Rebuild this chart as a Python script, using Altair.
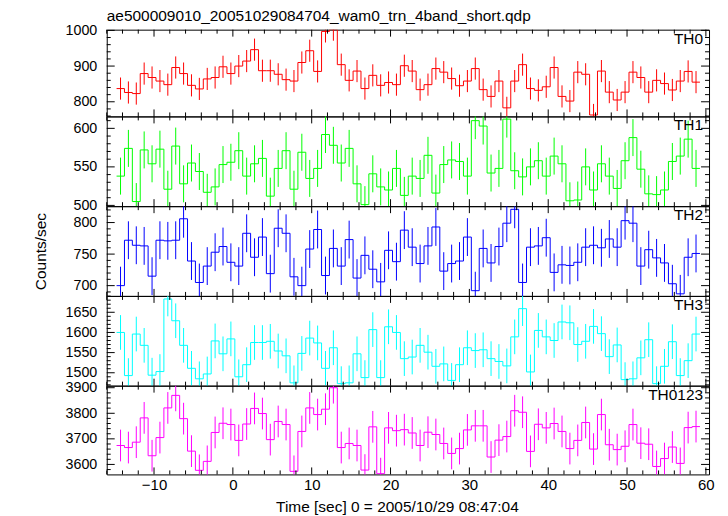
import altair as alt
import pandas as pd

chart_title = "ae500009010_20051029084704_wam0_trn_4band_short.qdp"
x_title = "Time [sec] 0 = 2005/10/29 08:47:04"
y_title = "Counts/sec"
labels = ["TH0", "TH1", "TH2", "TH3", "TH0123"]
colors = ["#ff0000", "#00ff00", "#0000ff", "#00ffff", "#ff00ff"]

t_first = -14.25
bin_width = 1.0

th0 = [837, 826, 823, 879, 868, 858, 848, 896, 879, 846, 836, 864, 868, 898, 879, 900,
       914, 946, 887, 887, 877, 862, 858, 910, 943, 885, 997, 1002, 904, 860, 886, 837,
       874, 846, 854, 848, 901, 886, 834, 848, 893, 883, 865, 845, 858, 893, 834, 815,
       858, 783, 858, 904, 837, 832, 842, 896, 815, 802, 883, 877, 763, 886, 827, 805,
       827, 883, 868, 827, 860, 851, 833, 858, 885, 855]
th1 = [538, 574, 505, 572, 554, 573, 521, 577, 528, 555, 544, 517, 524, 553, 556, 571,
       538, 554, 561, 512, 548, 571, 521, 569, 535, 548, 592, 578, 555, 574, 528, 501,
       541, 524, 520, 548, 513, 538, 535, 565, 516, 553, 559, 557, 538, 610, 603, 542,
       548, 612, 545, 537, 550, 558, 538, 564, 554, 506, 507, 550, 520, 554, 538, 522,
       558, 588, 547, 515, 514, 520, 557, 564, 586, 548]
th2 = [700, 772, 764, 763, 715, 772, 771, 772, 806, 739, 705, 731, 753, 762, 737, 731,
       783, 745, 777, 719, 791, 783, 714, 700, 758, 789, 716, 759, 731, 773, 712, 748,
       726, 706, 756, 738, 788, 761, 735, 763, 793, 723, 735, 739, 777, 692, 759, 736,
       762, 799, 821, 705, 761, 763, 776, 721, 733, 732, 737, 761, 764, 760, 774, 761,
       803, 799, 731, 757, 744, 736, 703, 687, 745, 751]
th3 = [1600, 1493, 1596, 1568, 1494, 1503, 1683, 1629, 1568, 1511, 1485, 1497, 1579, 1547,
       1584, 1490, 1520, 1575, 1575, 1578, 1554, 1542, 1475, 1548, 1586, 1574, 1511, 1562,
       1473, 1475, 1547, 1488, 1607, 1488, 1614, 1600, 1535, 1539, 1568, 1551, 1516, 1522,
       1481, 1520, 1562, 1555, 1557, 1535, 1528, 1517, 1589, 1659, 1502, 1605, 1589, 1580,
       1626, 1624, 1570, 1578, 1615, 1597, 1540, 1569, 1483, 1485, 1537, 1582, 1473, 1516,
       1577, 1493, 1530, 1596]
th0123 = [3674, 3666, 3687, 3782, 3634, 3705, 3821, 3870, 3779, 3652, 3577, 3612, 3725, 3761,
          3756, 3694, 3758, 3819, 3799, 3697, 3768, 3756, 3573, 3729, 3821, 3795, 3816, 3900,
          3666, 3682, 3674, 3578, 3747, 3564, 3743, 3732, 3736, 3723, 3674, 3726, 3717, 3682,
          3643, 3662, 3735, 3751, 3751, 3629, 3695, 3709, 3810, 3804, 3651, 3757, 3743, 3760,
          3729, 3662, 3694, 3764, 3660, 3795, 3677, 3658, 3671, 3756, 3683, 3679, 3592, 3623,
          3668, 3604, 3744, 3748]
series = [th0, th1, th2, th3, th0123]
errors = [31, 24, 30, 43, 62]

x_domain = [-16, 60.4]
y_domains = [[759, 1002], [499, 615.5], [683.7, 826], [1468, 1690.6], [3561, 3908]]
y_major = [[800, 900, 1000], [500, 550, 600], [700, 750, 800],
           [1500, 1550, 1600, 1650], [3600, 3700, 3800, 3900]]
y_minor_step = [20, 10, 10, 10, 20]
x_major = [-10, 0, 10, 20, 30, 40, 50, 60]
x_minor = [v for v in range(-16, 61, 2) if v % 10 != 0]

W = 604
heights = [87, 90, 90, 90, 89]
FONT = "Liberation Sans"

xs = alt.Scale(domain=x_domain, nice=False, zero=False)


def panel(k):
    vals = series[k]
    err = errors[k]
    H = heights[k]
    ys = alt.Scale(domain=y_domains[k], nice=False, zero=False)
    centers = [t_first + i * bin_width for i in range(len(vals))]
    step_rows = []
    o = 0
    for c, v in zip(centers, vals):
        step_rows.append({"t": c - bin_width / 2, "v": v, "o": o}); o += 1
        step_rows.append({"t": c + bin_width / 2, "v": v, "o": o}); o += 1
    step_df = pd.DataFrame(step_rows)
    err_df = pd.DataFrame({"t": centers, "v": [v - err for v in vals], "hi": [v + err for v in vals]})

    show_x = (k == len(series) - 1)

    def x_axis():
        if not show_x:
            return None
        return alt.Axis(values=x_major, format="d", title=x_title, labelPadding=3,
                        titlePadding=7, titleX=291, labelFlush=False, labelOverlap=False)

    def y_axis():
        extra = {"titleX": -58, "titleY": H / 2, "titleBaseline": "bottom"} if k == 2 else {}
        return alt.Axis(values=y_major[k], format="d", labelFlush=False, labelOverlap=False,
                        title=y_title if k == 2 else None, **extra)

    line = alt.Chart(step_df).mark_line(color=colors[k], strokeWidth=1, clip=True,
                                        interpolate="linear").encode(
        x=alt.X("t:Q", scale=xs, axis=x_axis()),
        y=alt.Y("v:Q", scale=ys, axis=y_axis()),
        order=alt.Order("o:Q"),
    )
    bars = alt.Chart(err_df).mark_rule(color=colors[k], strokeWidth=1, clip=True).encode(
        x=alt.X("t:Q", scale=xs, axis=x_axis()),
        y=alt.Y("v:Q", scale=ys, axis=y_axis()),
        y2="hi:Q",
    )

    lo, hi = y_domains[k]
    st = y_minor_step[k]
    ymin_vals = [v for v in range(int(lo // st) * st, int(hi) + 1, st)
                 if lo <= v <= hi and v not in y_major[k]]
    xmaj_df = pd.DataFrame({"t": x_major})
    xmin_df = pd.DataFrame({"t": x_minor})
    ymaj_df = pd.DataFrame({"v": y_major[k]})
    ymin_df = pd.DataFrame({"v": ymin_vals})

    def xt(df, y0, y1):
        return alt.Chart(df).mark_rule(color="black", strokeWidth=1).encode(
            x=alt.X("t:Q", scale=xs, axis=x_axis()), y=alt.value(y0), y2=alt.value(y1))

    def yt(df, x0, x1):
        return alt.Chart(df).mark_rule(color="black", strokeWidth=1).encode(
            y=alt.Y("v:Q", scale=ys, axis=y_axis()), x=alt.value(x0), x2=alt.value(x1))

    ticks = [
        xt(xmaj_df, H, H - 7), xt(xmaj_df, 0, 7),
        xt(xmin_df, H, H - 4), xt(xmin_df, 0, 4),
        yt(ymaj_df, 0, 8), yt(ymaj_df, W, W - 8),
        yt(ymin_df, 0, 4), yt(ymin_df, W, W - 4),
    ]
    lab = alt.Chart(pd.DataFrame({"lab": [labels[k]]})).mark_text(
        align="right", baseline="top", font=FONT, fontSize=15.5, color="black"
    ).encode(text="lab:N", x=alt.value(W - 6), y=alt.value(2))

    layers = [line, bars, *ticks, lab]
    if k == 0:
        ttl = alt.Chart(pd.DataFrame({"lab": [chart_title]})).mark_text(
            align="left", baseline="alphabetic", font=FONT, fontSize=15.5, color="black"
        ).encode(text="lab:N", x=alt.value(0), y=alt.value(-8.5))
        layers.append(ttl)
    return alt.layer(*layers).properties(width=W, height=H)


chart = alt.vconcat(*[panel(k) for k in range(5)], spacing=0, bounds="flush").properties(
    padding={"left": 25, "top": 0, "right": 5, "bottom": 5}
).configure_view(
    stroke="black", strokeWidth=1
).configure_axis(
    grid=False, domain=False, ticks=False, tickSize=0,
    labelFont=FONT, labelFontSize=15, labelColor="black",
    titleFont=FONT, titleFontSize=15.5, titleFontWeight="normal", titleColor="black",
).configure_axisY(
    labelPadding=10, labelFontSize=14.3
)

chart.save("out.html", embed_options={"renderer": "svg", "actions": False})
